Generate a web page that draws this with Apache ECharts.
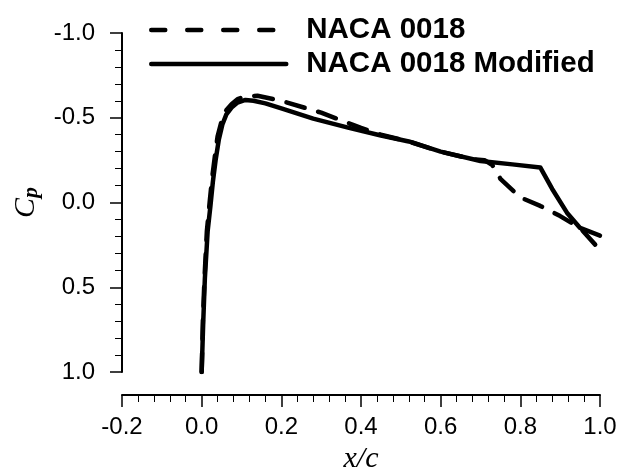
<!DOCTYPE html>
<html>
<head>
<meta charset="utf-8">
<script src="https://cdn.jsdelivr.net/npm/echarts@6/dist/echarts.min.js"></script>
<style>html,body{margin:0;padding:0;background:#fff}#c{width:620px;height:468px}</style>
</head>
<body>
<div id="c"></div>
<script>
// x/c tick labels and ranges
const xTicks = [-0.2, 0.0, 0.2, 0.4, 0.6, 0.8, 1.0];
const yTicks = [-1.0, -0.5, 0.0, 0.5, 1.0];

// NACA 0018 (dashed)
const baseX  = [0.0, 0.003, 0.007, 0.013, 0.02, 0.026, 0.033, 0.04, 0.05, 0.06, 0.075, 0.09, 0.11, 0.14, 0.2, 0.3, 0.4, 0.45, 0.52, 0.6, 0.68, 0.71, 0.73, 0.75, 0.8, 0.85, 0.9, 0.95, 1.0];
const baseCp = [1.0, 0.7, 0.45, 0.17, 0.0, -0.14, -0.27, -0.39, -0.48, -0.54, -0.58, -0.61, -0.625, -0.63, -0.6, -0.53, -0.44, -0.4, -0.36, -0.3, -0.255, -0.25, -0.22, -0.14, -0.03, 0.02, 0.08, 0.15, 0.28];

// NACA 0018 Modified (solid)
const modX  = [0.0, 0.004, 0.008, 0.015, 0.022, 0.028, 0.035, 0.043, 0.052, 0.062, 0.075, 0.09, 0.11, 0.13, 0.16, 0.2, 0.28, 0.37, 0.45, 0.52, 0.6, 0.7, 0.78, 0.85, 0.88, 0.917, 0.95, 1.0];
const modCp = [1.0, 0.7, 0.45, 0.17, 0.02, -0.12, -0.25, -0.37, -0.46, -0.52, -0.56, -0.59, -0.605, -0.6, -0.585, -0.555, -0.495, -0.44, -0.395, -0.36, -0.3, -0.245, -0.225, -0.207, -0.08, 0.06, 0.15, 0.195];

const seriesNames = ['NACA 0018', 'NACA 0018 Modified'];

const zip = (a, b) => a.map((v, i) => [v, b[i]]);

const chart = echarts.init(document.getElementById('c'));
const axisCommon = {
  axisLine: { show: true, onZero: false, lineStyle: { color: '#000', width: 2 } },
  axisTick: { show: true, inside: false, length: 12, lineStyle: { color: '#000', width: 1.5 } },
  minorTick: { show: true, splitNumber: 5, length: 7, lineStyle: { color: '#000', width: 1 } },
  splitLine: { show: false },
  minorSplitLine: { show: false }
};
const hidden = { opacity: 0, color: 'transparent', borderWidth: 0 };
chart.setOption({
  animation: false,
  backgroundColor: '#fff',
  grid: { left: 122, right: 20, top: 33, bottom: 96, containLabel: false, outerBoundsMode: 'none' },
  legend: {
    orient: 'vertical',
    left: 149,
    top: 15,
    padding: 0,
    itemWidth: 135,
    itemHeight: 34,
    itemGap: 4,
    itemStyle: hidden,
    textStyle: { fontFamily: 'Liberation Sans, Arial, sans-serif', fontWeight: 'bold', fontSize: 29.5, color: '#000', padding: [0, 0, 0, 15] },
    data: [
      { name: seriesNames[0], itemStyle: hidden, lineStyle: { type: [14, 22], cap: 'round', width: 4.5, color: '#000' } },
      { name: seriesNames[1], itemStyle: hidden, lineStyle: { type: 'solid', cap: 'round', width: 4.5, color: '#000' } }
    ]
  },
  xAxis: Object.assign({
    type: 'value',
    min: xTicks[0],
    max: xTicks[xTicks.length - 1],
    interval: 0.2,
    offset: 23,
    name: 'x/c',
    nameLocation: 'middle',
    nameGap: 39,
    nameTextStyle: { fontFamily: 'Liberation Serif, Times New Roman, serif', fontStyle: 'italic', fontSize: 30, color: '#000' },
    axisLabel: { color: '#000', fontFamily: 'Liberation Sans, Arial, sans-serif', fontSize: 24, margin: 20, formatter: v => v.toFixed(1) }
  }, axisCommon),
  yAxis: Object.assign({
    type: 'value',
    inverse: true,
    min: yTicks[0],
    max: yTicks[yTicks.length - 1],
    interval: 0.5,
    name: '{c|C}{p|p}',
    nameLocation: 'middle',
    nameRotate: 90,
    nameGap: 78,
    nameTextStyle: {
      rich: {
        c: { fontFamily: 'Liberation Serif, Times New Roman, serif', fontStyle: 'italic', fontSize: 30, color: '#000', lineHeight: 34, verticalAlign: 'middle' },
        p: { fontFamily: 'Liberation Serif, Times New Roman, serif', fontStyle: 'italic', fontWeight: 'bold', fontSize: 22, color: '#000', lineHeight: 34, verticalAlign: 'bottom', padding: [14, 0, 0, 0] }
      }
    },
    axisLabel: { color: '#000', fontFamily: 'Liberation Sans, Arial, sans-serif', fontSize: 24, margin: 27, formatter: v => v.toFixed(1) }
  }, axisCommon),
  series: [
    {
      name: seriesNames[0], type: 'line', symbol: 'none', showSymbol: false,
      data: zip(baseX, baseCp),
      lineStyle: { color: '#000', width: 4.5, type: [19, 14], cap: 'round' },
      itemStyle: { color: '#000' }, z: 2
    },
    {
      name: seriesNames[1], type: 'line', symbol: 'none', showSymbol: false,
      data: zip(modX, modCp),
      lineStyle: { color: '#000', width: 4.5, type: 'solid', cap: 'round', join: 'round' },
      itemStyle: { color: '#000' }, z: 3
    }
  ]
});
</script>
</body>
</html>
